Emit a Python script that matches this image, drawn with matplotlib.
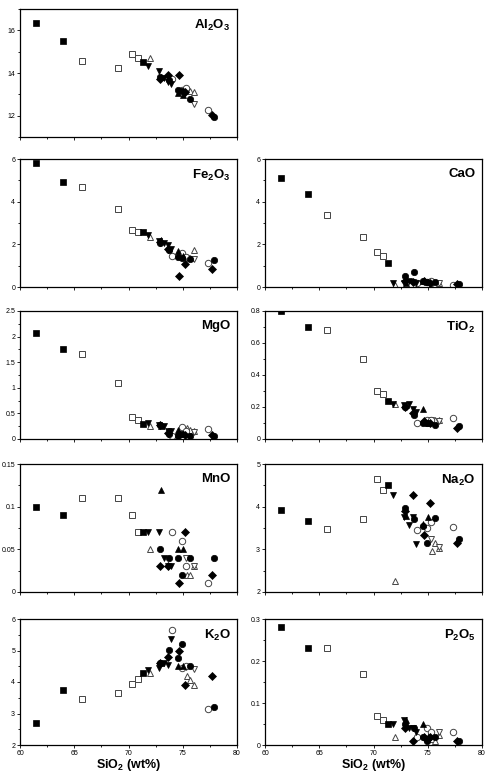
import matplotlib
matplotlib.use("Agg")
import matplotlib.pyplot as plt
from matplotlib.ticker import MultipleLocator, FormatStrFormatter

plt.rcParams['font.family'] = ['Liberation Sans', 'DejaVu Sans']
plt.rcParams['mathtext.fontset'] = 'custom'
plt.rcParams['mathtext.rm'] = 'Liberation Sans:bold'
plt.rcParams['mathtext.it'] = 'Liberation Sans:bold'
plt.rcParams['mathtext.bf'] = 'Liberation Sans:bold'

oxides = ['Al2O3', 'Fe2O3', 'CaO', 'MgO', 'TiO2', 'MnO', 'Na2O', 'K2O', 'P2O5']

# filled squares
sq_f_si = [61.5, 64.0, 71.3]
sq_f = {'Al2O3': [16.35, 15.5, 14.5], 'Fe2O3': [5.83, 4.92, 2.6], 'CaO': [5.1, 4.35, 1.13],
        'MgO': [2.07, 1.76, 0.29], 'TiO2': [0.80, 0.70, 0.24], 'MnO': [0.10, 0.09, 0.07],
        'Na2O': [3.93, 3.66, 4.51], 'K2O': [2.70, 3.74, 4.30], 'P2O5': [0.28, 0.23, 0.05]}
# open squares
sq_o_si = [65.7, 69.0, 70.3, 70.9]
sq_o = {'Al2O3': [14.58, 14.25, 14.9, 14.72], 'Fe2O3': [4.70, 3.66, 2.66, 2.58],
        'CaO': [3.36, 2.36, 1.62, 1.46], 'MgO': [1.66, 1.09, 0.43, 0.37],
        'TiO2': [0.68, 0.50, 0.30, 0.28], 'MnO': [0.11, 0.11, 0.09, 0.07],
        'Na2O': [3.48, 3.71, 4.65, 4.39], 'K2O': [3.45, 3.66, 3.95, 4.10],
        'P2O5': [0.23, 0.17, 0.07, 0.06]}
# filled down triangles
tv_f_si = [71.8, 72.8, 73.3, 73.6, 73.9]
tv_f = {'Al2O3': [14.32, 14.1, 13.75, 13.6, 13.47], 'Fe2O3': [2.43, 2.16, 2.07, 1.98, 1.8],
        'CaO': [0.2, 0.2, 0.3, 0.25, 0.2], 'MgO': [0.32, 0.27, 0.26, 0.15, 0.15],
        'TiO2': [0.22, 0.21, 0.22, 0.19, 0.17], 'MnO': [0.07, 0.07, 0.04, 0.03, 0.03],
        'Na2O': [4.28, 3.76, 3.57, 3.75, 3.13], 'K2O': [4.37, 4.45, 4.6, 4.55, 5.35],
        'P2O5': [0.05, 0.06, 0.04, 0.04, 0.03]}
# open up triangles
tu_o_si = [72.0, 75.4, 75.7, 76.0]
tu_o = {'Al2O3': [14.68, 13.2, 13.15, 13.1], 'Fe2O3': [2.36, 1.4, 1.35, 1.72],
        'CaO': [0.08, 0.18, 0.15, 0.2], 'MgO': [0.25, 0.21, 0.17, 0.15],
        'TiO2': [0.22, 0.11, 0.12, 0.12], 'MnO': [0.05, 0.02, 0.02, 0.03],
        'Na2O': [2.25, 2.97, 3.15, 3.03], 'K2O': [4.27, 4.18, 4.05, 3.9],
        'P2O5': [0.02, 0.015, 0.01, 0.025]}
# open down triangles
tv_o_si = [75.3, 76.0]
tv_o = {'Al2O3': [13.2, 12.55], 'Fe2O3': [1.35, 1.3], 'CaO': [0.15, 0.17],
        'MgO': [0.13, 0.13], 'TiO2': [0.12, 0.11], 'MnO': [0.04, 0.03],
        'Na2O': [3.25, 3.05], 'K2O': [4.48, 4.42], 'P2O5': [0.02, 0.03]}
# open circles
ci_o_si = [74.0, 74.9, 75.3, 77.3]
ci_o = {'Al2O3': [13.7, 13.2, 13.3, 12.25], 'Fe2O3': [1.47, 1.6, 1.4, 1.13],
        'CaO': [0.2, 0.25, 0.3, 0.1], 'MgO': [0.05, 0.23, 0.15, 0.19],
        'TiO2': [0.10, 0.12, 0.12, 0.13], 'MnO': [0.07, 0.06, 0.03, 0.01],
        'Na2O': [3.45, 3.5, 3.65, 3.52], 'K2O': [5.65, 4.45, 4.5, 3.15],
        'P2O5': [0.02, 0.04, 0.03, 0.03]}
# filled circles
ci_f_si = [72.9, 73.7, 74.6, 74.9, 75.7, 77.9]
ci_f = {'Al2O3': [13.8, 13.65, 13.2, 13.15, 12.8, 11.95], 'Fe2O3': [2.05, 1.75, 1.4, 1.35, 1.3, 1.27],
        'CaO': [0.52, 0.72, 0.3, 0.22, 0.25, 0.15], 'MgO': [0.27, 0.1, 0.05, 0.1, 0.05, 0.05],
        'TiO2': [0.2, 0.15, 0.1, 0.1, 0.09, 0.08], 'MnO': [0.05, 0.04, 0.04, 0.02, 0.04, 0.04],
        'Na2O': [3.96, 3.71, 3.55, 3.16, 3.74, 3.24], 'K2O': [4.6, 5.02, 4.75, 5.22, 4.5, 3.2],
        'P2O5': [0.05, 0.04, 0.02, 0.01, 0.02, 0.01]}
# filled diamonds
di_f_si = [72.9, 73.6, 74.7, 75.2, 77.7]
di_f = {'Al2O3': [13.7, 13.9, 13.9, 13.1, 12.05], 'Fe2O3': [2.1, 1.8, 0.5, 1.1, 0.85],
        'CaO': [0.3, 0.25, 0.3, 0.2, 0.15], 'MgO': [0.28, 0.12, 0.1, 0.08, 0.08],
        'TiO2': [0.2, 0.16, 0.11, 0.1, 0.07], 'MnO': [0.03, 0.03, 0.01, 0.07, 0.02],
        'Na2O': [3.9, 4.28, 3.33, 4.08, 3.15], 'K2O': [4.6, 4.8, 5.0, 3.9, 4.2],
        'P2O5': [0.04, 0.01, 0.02, 0.02, 0.01]}
# filled up triangles
tu_f_si = [73.0, 74.6, 75.0]
tu_f = {'Al2O3': [13.8, 13.05, 12.95], 'Fe2O3': [2.2, 1.7, 1.45], 'CaO': [0.2, 0.3, 0.25],
        'MgO': [0.25, 0.18, 0.1], 'TiO2': [0.21, 0.19, 0.1], 'MnO': [0.12, 0.05, 0.05],
        'Na2O': [3.77, 3.6, 3.75], 'K2O': [4.6, 4.5, 4.5], 'P2O5': [0.06, 0.05, 0.02]}

groups = [
    (sq_o_si, sq_o, 's', False),
    (tu_o_si, tu_o, '^', False),
    (tv_o_si, tv_o, 'v', False),
    (ci_o_si, ci_o, 'o', False),
    (sq_f_si, sq_f, 's', True),
    (tv_f_si, tv_f, 'v', True),
    (tu_f_si, tu_f, '^', True),
    (ci_f_si, ci_f, 'o', True),
    (di_f_si, di_f, 'D', True),
]

titles = {'Al2O3': r'$\mathrm{Al_2O_3}$', 'Fe2O3': r'$\mathrm{Fe_2O_3}$', 'CaO': 'CaO',
          'MgO': 'MgO', 'TiO2': r'$\mathrm{TiO_2}$', 'MnO': 'MnO', 'Na2O': r'$\mathrm{Na_2O}$',
          'K2O': r'$\mathrm{K_2O}$', 'P2O5': r'$\mathrm{P_2O_5}$'}
# (ymin, ymax, major, minor)
yscale = {'Al2O3': (11, 17, 2, 1), 'Fe2O3': (0, 6, 2, 1), 'CaO': (0, 6, 2, 1),
          'MgO': (0, 2.5, 0.5, 0.25), 'TiO2': (0, 0.8, 0.2, 0.1), 'MnO': (0, 0.15, 0.05, 0.025),
          'Na2O': (2, 5, 1, 0.5), 'K2O': (2, 6, 1, 0.5), 'P2O5': (0, 0.3, 0.1, 0.05)}

W, H = 493, 775
fig = plt.figure(figsize=(W / 100, H / 100), dpi=100)

cols = [20, 265]
rows = [(9, 137), (159, 287), (311, 439), (464, 592), (619, 745)]
layout = {'Al2O3': (0, 0), 'Fe2O3': (1, 0), 'CaO': (1, 1), 'MgO': (2, 0), 'TiO2': (2, 1),
          'MnO': (3, 0), 'Na2O': (3, 1), 'K2O': (4, 0), 'P2O5': (4, 1)}

for ox in oxides:
    r, c = layout[ox]
    top, bot = rows[r]
    ax = fig.add_axes([cols[c] / W, 1 - bot / H, 217 / W, (bot - top) / H])
    for si, d, m, filled in groups:
        ms = 4.6 if m != 'D' else 3.6
        if filled:
            ax.plot(si, d[ox], m, ms=ms, mfc='black', mec='black', mew=0.5, ls='none')
        else:
            ax.plot(si, d[ox], m, ms=ms, mfc='white', mec='#444444', mew=0.7, ls='none')
    y0, y1, maj, mnr = yscale[ox]
    ax.set_xlim(60, 80)
    ax.set_ylim(y0, y1)
    ax.xaxis.set_major_locator(MultipleLocator(5))
    ax.xaxis.set_minor_locator(MultipleLocator(2.5))
    ax.yaxis.set_major_locator(MultipleLocator(maj))
    ax.yaxis.set_minor_locator(MultipleLocator(mnr))
    ax.yaxis.set_major_formatter(FormatStrFormatter('%g'))
    ax.tick_params(which='both', direction='out', length=2, width=0.6, labelsize=5, pad=1.5)
    ax.tick_params(which='minor', length=1.5)
    for s in ax.spines.values():
        s.set_linewidth(0.9)
    if r == 4:
        ax.set_xticks([60, 65, 70, 75, 80])
        ax.xaxis.set_major_formatter(FormatStrFormatter('%g'))
        ax.set_xlabel(r'$\mathrm{SiO_2}$ (wt%)', fontsize=9, fontweight='bold', labelpad=0)
    else:
        ax.tick_params(axis='x', labelbottom=False)
    ax.text(0.97, 0.93, titles[ox], transform=ax.transAxes, ha='right', va='top',
            fontsize=9.5, fontweight='bold')

fig.savefig('out.png', dpi=100)
